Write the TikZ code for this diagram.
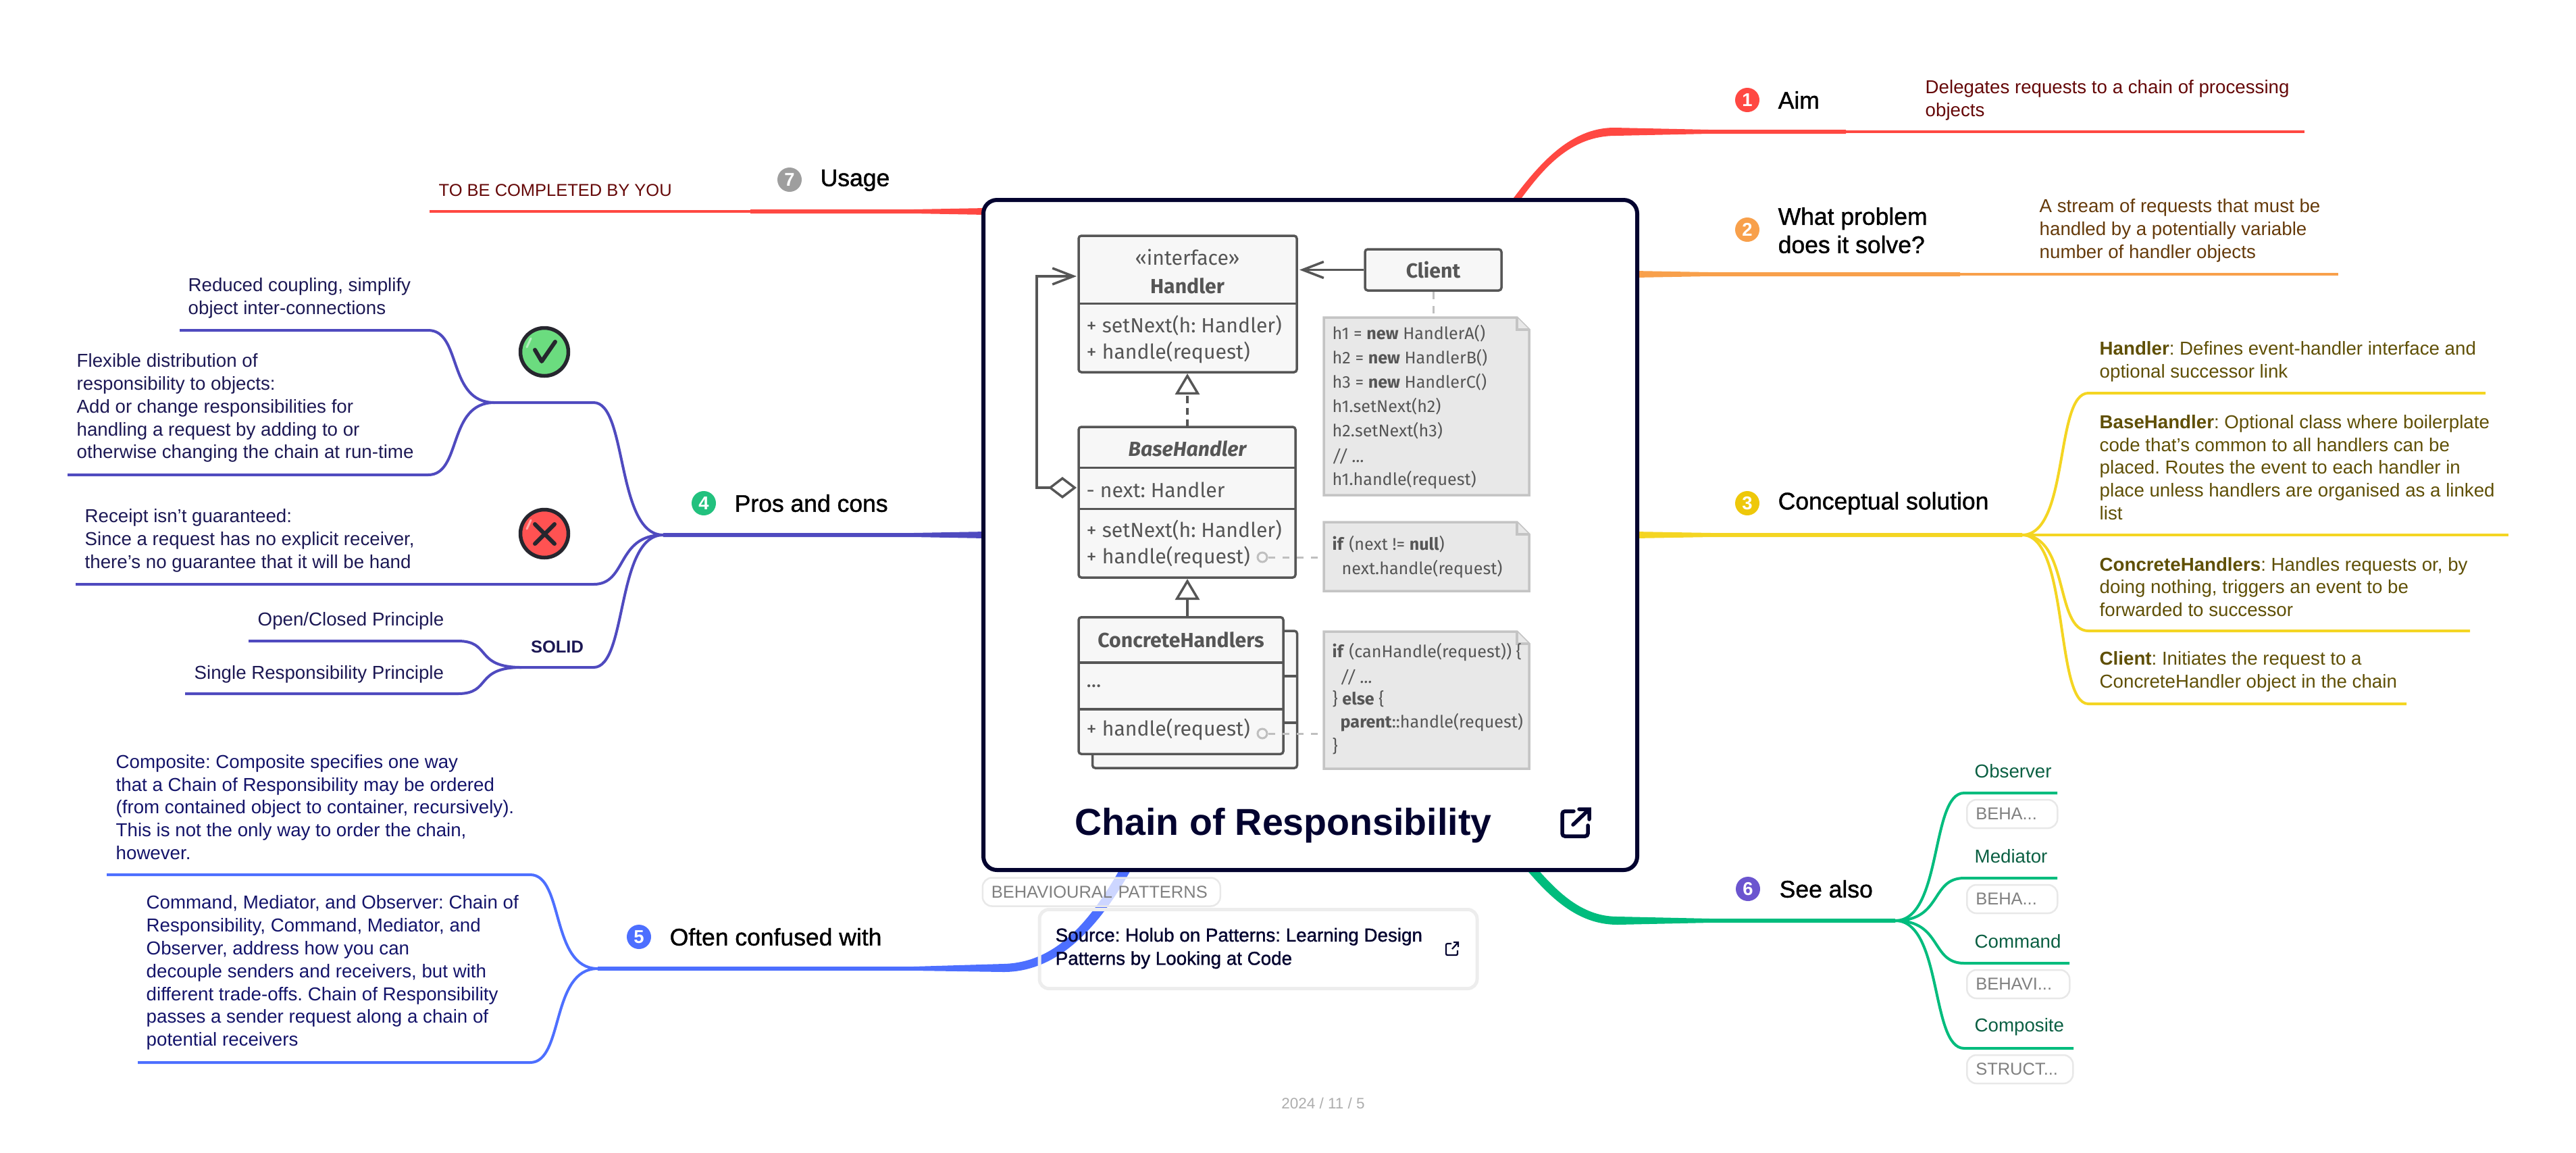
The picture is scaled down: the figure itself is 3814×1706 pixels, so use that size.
\documentclass[tikz,border=0pt]{standalone}
\usepackage{fontspec}
\setmainfont{Liberation Sans}
\newfontfamily\medfont[FakeBold=1.2]{Liberation Sans}
\newfontfamily\umlfont{Fira Sans}
\usetikzlibrary{arrows.meta,calc}
\definecolor{aimred}{HTML}{FF4842}
\definecolor{aimtext}{HTML}{650808}
\definecolor{proborange}{HTML}{F8A04B}
\definecolor{probtext}{HTML}{653A0A}
\definecolor{solyellow}{HTML}{F4D522}
\definecolor{solbadgefill}{HTML}{EEC80A}
\definecolor{soltext}{HTML}{5F4F05}
\definecolor{prosindigo}{HTML}{4F4ABF}
\definecolor{prosbadgefill}{HTML}{22C17E}
\definecolor{prostext}{HTML}{1C1854}
\definecolor{confblue}{HTML}{4D6FFF}
\definecolor{conftext}{HTML}{14146A}
\definecolor{seegreen}{HTML}{00BC7D}
\definecolor{seebadgefill}{HTML}{6B55CF}
\definecolor{seetext}{HTML}{0A5F42}
\definecolor{cardnavy}{HTML}{03032F}
\definecolor{umlgrey}{HTML}{565656}
\definecolor{moodink}{HTML}{26262E}
\definecolor{moodgood}{HTML}{6BDC7F}
\definecolor{moodbad}{HTML}{FF5252}
\newcommand{\leaffont}{\fontsize{7.88pt}{9.64pt}\selectfont}
\newcommand{\topicfont}{\medfont\fontsize{10.1pt}{11.9pt}\selectfont}
\newcommand{\pillfont}{\fontsize{7.25pt}{8.6pt}\selectfont}
\newcommand{\umlbig}{\umlfont\fontsize{8.6pt}{10pt}\selectfont}
\newcommand{\umlsmall}{\umlfont\fontsize{7.15pt}{10.3pt}\selectfont}
\tikzset{
  stem/.style={line width=0.6mm},
  twig/.style={line width=0.4mm},
  leaf/.style={anchor=west,align=left,inner sep=0pt,font=\leaffont},
  topic/.style={anchor=west,align=left,inner sep=0pt,font=\topicfont},
  badge/.style={circle,minimum size=3.6mm,inner sep=0pt,text=white,font=\bfseries\fontsize{7.8pt}{8pt}\selectfont},
  pill/.style={anchor=west,draw=black!9,line width=0.25mm,rounded corners=1.4mm,fill=white,fill opacity=0.72,text opacity=1,
    text=black!50,font=\pillfont,align=left,inner xsep=1.3mm,inner ysep=0pt,minimum height=4.2mm},
  sprout/.style={to path={.. controls +(70,0) and +(-50,0) .. (\tikztotarget)}},
  sproutL/.style={to path={.. controls +(-70,0) and +(50,0) .. (\tikztotarget)}},
  umlbox/.style={draw=umlgrey,fill=black!3,line width=0.35mm,rounded corners=0.4mm,inner sep=0pt},
  umlline/.style={draw=umlgrey,line width=0.35mm},
  umlbold/.style={inner sep=0pt,text=umlgrey,font=\umlbig\bfseries},
  umltext/.style={anchor=west,inner sep=0pt,text=umlgrey,font=\umlbig},
  notetext/.style={anchor=west,inner sep=0pt,text=umlgrey,font=\umlsmall},
  notelink/.style={draw=black!25,line width=0.3mm,dashed},
  notebox/.style={draw=black!23,fill=black!9,line width=0.35mm},
  mood/.style={circle,draw=moodink,line width=0.55mm,minimum size=7.1mm,inner sep=0pt},
}
% folded note, from its top and bottom
\newcommand{\umlnote}[2]{
  \draw[notebox] (1960,#1) -- (2246,#1) -- (2264,#1+18) -- (2264,#2) -- (1960,#2) -- cycle;
  \draw[notebox] (2246,#1) -- (2246,#1+18) -- (2264,#1+18);
}
\begin{document}
\frenchspacing
\begin{tikzpicture}[x=0.1mm,y=-0.1mm]
    \useasboundingbox (0,0) rectangle (3814,1706);

    % aim
    \coordinate (aimknee) at (2733,195);
    \coordinate (aimend) at (3412,195);
    \fill[aimred] (2239,300) -- (2241,293) .. controls (2279,243) and (2325,189) .. (2390,189) -- (2530,192) -- (2733,192) -- (2733,198) -- (2530,198) -- (2392,201) .. controls (2325,201) and (2285,250) .. (2253,293) -- (2250,300) -- cycle;
    \draw[twig,aimred] (aimknee) -- (aimend);
    \node[badge,fill=aimred] (aimbadge) at (2587,148) {1};
    \node[topic] (aimtopic) at (2632,148) {Aim};
    \node[leaf,text=aimtext] (aimleaf) at (2850,148) {Delegates requests to a chain of processing\\objects};

    % problem
    \coordinate (probknee) at (2902,406);
    \coordinate (probend) at (3462,406);
    \fill[proborange] (2420,401) -- (2530,403) -- (2902,403) -- (2902,409) -- (2530,409) -- (2420,411) -- cycle;
    \draw[twig,proborange] (probknee) -- (probend);
    \node[badge,fill=proborange] (probbadge) at (2587,340) {2};
    \node[topic] (probtopic) at (2632,341) {What problem\\does it solve?};
    \node[leaf,text=probtext] (probleaf) at (3019,341) {A stream of requests that must be\\handled by a potentially variable\\number of handler objects};

    % solution
    \coordinate (solsplit) at (2994,792);
    \coordinate (solend) at (3714,792);
    \coordinate (hanknee) at (3092,582);
    \coordinate (hanend) at (3680,582);
    \coordinate (conknee) at (3092,934);
    \coordinate (conend) at (3657,934);
    \coordinate (cliknee) at (3092,1042);
    \coordinate (cliend) at (3563,1042);
    \fill[solyellow] (2420,787) -- (2534,789) -- (2994,789) -- (2994,795) -- (2534,795) -- (2420,797) -- cycle;
    \draw[twig,solyellow] (solsplit) -- (solend);
    \draw[twig,solyellow] (solsplit) to[sprout] (hanknee) -- (hanend);
    \draw[twig,solyellow] (solsplit) to[sprout] (conknee) -- (conend);
    \draw[twig,solyellow] (solsplit) to[sprout] (cliknee) -- (cliend);
    \node[badge,fill=solbadgefill] (solbadge) at (2587,745) {3};
    \node[topic] (soltopic) at (2632,745) {Conceptual solution};
    \node[leaf,text=soltext] (hanleaf) at (3108,535) {\textbf{Handler}: Defines event-handler interface and\\optional successor link};
    \node[leaf,text=soltext] (baseleaf) at (3108,692) {\textbf{BaseHandler}: Optional class where boilerplate\\code that’s common to all handlers can be\\placed. Routes the event to each handler in\\place unless handlers are organised as a linked\\list};
    \node[leaf,text=soltext] (conleaf) at (3108,869) {\textbf{ConcreteHandlers}: Handles requests or, by\\doing nothing, triggers an event to be\\forwarded to successor};
    \node[leaf,text=soltext] (clileaf) at (3108,994) {\textbf{Client}: Initiates the request to a\\ConcreteHandler object in the chain};

    % pros and cons
    \coordinate (prosknee) at (982,792);
    \coordinate (goodknee) at (879,596);
    \coordinate (goodsplit) at (732,596);
    \coordinate (redknee) at (634,489);
    \coordinate (redend) at (266,489);
    \coordinate (flexknee) at (634,703);
    \coordinate (flexend) at (100,703);
    \coordinate (badknee) at (879,865);
    \coordinate (badend) at (112,865);
    \coordinate (solidknee) at (879,988);
    \coordinate (solidsplit) at (772,988);
    \coordinate (openknee) at (678,949);
    \coordinate (openend) at (368,949);
    \coordinate (singleknee) at (678,1027);
    \coordinate (singleend) at (274,1027);
    \fill[prosindigo] (1460,787) -- (1352,789) -- (982,789) -- (982,795) -- (1352,795) -- (1460,797) -- cycle;
    \draw[twig,prosindigo] (prosknee) to[sproutL] (goodknee) -- (goodsplit);
    \draw[twig,prosindigo] (goodsplit) to[sproutL] (redknee) -- (redend);
    \draw[twig,prosindigo] (goodsplit) to[sproutL] (flexknee) -- (flexend);
    \draw[twig,prosindigo] (prosknee) to[sproutL] (badknee) -- (badend);
    \draw[twig,prosindigo] (prosknee) to[sproutL] (solidknee) -- (solidsplit);
    \draw[twig,prosindigo] (solidsplit) to[sproutL] (openknee) -- (openend);
    \draw[twig,prosindigo] (solidsplit) to[sproutL] (singleknee) -- (singleend);
    \node[badge,fill=prosbadgefill] (prosbadge) at (1042,745) {4};
    \node[topic] (prostopic) at (1087,745) {Pros and cons};
    \node[mood,fill=moodgood] (goodmood) at (806,521) {};
    \draw[white,opacity=0.5,line width=0.3mm,line cap=round] (780,514) -- (786,501);
    \draw[line width=0.6mm,moodink,line cap=round,line join=round] (792,518) -- (802,535) -- (822,506);
    \node[mood,fill=moodbad] (badmood) at (806,790) {};
    \draw[white,opacity=0.5,line width=0.3mm,line cap=round] (780,783) -- (786,770);
    \draw[line width=0.6mm,moodink,line cap=round] (792,776) -- (821,805) (821,776) -- (792,805);
    \node[leaf,text=prostext] (redleaf) at (278,441) {Reduced coupling, simplify\\object inter-connections};
    \node[leaf,text=prostext] (flexleaf) at (113,604) {Flexible distribution of\\responsibility to objects:\\Add or change responsibilities for\\handling a request by adding to or\\otherwise changing the chain at run-time};
    \node[leaf,text=prostext] (badleaf) at (125,800) {Receipt isn’t guaranteed:\\Since a request has no explicit receiver,\\there’s no guarantee that it will be hand};
    \node[inner sep=0pt,text=prostext,font=\bfseries\pillfont] (solidtext) at (825,958) {SOLID};
    \node[leaf,text=prostext] (openleaf) at (381,919) {Open/Closed Principle};
    \node[leaf,text=prostext] (singleleaf) at (287,998) {Single Responsibility Principle};

    % confused
    \coordinate (confsplit) at (885,1434);
    \coordinate (compknee) at (785,1295);
    \coordinate (compend) at (158,1295);
    \coordinate (cmdknee) at (785,1573);
    \coordinate (cmdend) at (204,1573);
    \fill[confblue] (885,1431) -- (1352,1431) -- (1486,1427) .. controls (1560,1425) and (1610,1370) .. (1655,1292) -- (1658,1285) -- (1675,1285) -- (1672,1292) .. controls (1625,1375) and (1565,1439) .. (1486,1439) -- (1352,1437) -- (885,1437) -- cycle;
    \draw[twig,confblue] (confsplit) to[sproutL] (compknee) -- (compend);
    \draw[twig,confblue] (confsplit) to[sproutL] (cmdknee) -- (cmdend);
    \node[badge,fill=confblue] (confbadge) at (946,1387) {5};
    \node[topic] (conftopic) at (991,1387) {Often confused with};
    \node[leaf,text=conftext] (compleaf) at (171,1195) {Composite: Composite specifies one way\\that a Chain of Responsibility may be ordered\\(from contained object to container, recursively).\\This is not the only way to order the chain,\\however.};
    \node[leaf,text=conftext] (cmdleaf) at (216,1440) {Command, Mediator, and Observer: Chain of\\Responsibility, Command, Mediator, and\\Observer, address how you can\\decouple senders and receivers, but with\\different trade-offs. Chain of Responsibility\\passes a sender request along a chain of\\potential receivers};

    % see also
    \coordinate (seesplit) at (2806,1363);
    \coordinate (obsknee) at (2908,1174);
    \coordinate (obsend) at (3046,1174);
    \coordinate (medknee) at (2908,1300);
    \coordinate (medend) at (3046,1300);
    \coordinate (comknee) at (2908,1426);
    \coordinate (comend) at (3064,1426);
    \coordinate (cosknee) at (2908,1552);
    \coordinate (cosend) at (3070,1552);
    \fill[seegreen] (2275,1285) .. controls (2310,1325) and (2345,1357) .. (2395,1357) -- (2532,1360) -- (2806,1360) -- (2806,1366) -- (2532,1366) -- (2395,1369) .. controls (2340,1369) and (2300,1335) .. (2258,1285) -- cycle;
    \draw[twig,seegreen] (seesplit) to[sprout] (obsknee) -- (obsend);
    \draw[twig,seegreen] (seesplit) to[sprout] (medknee) -- (medend);
    \draw[twig,seegreen] (seesplit) to[sprout] (comknee) -- (comend);
    \draw[twig,seegreen] (seesplit) to[sprout] (cosknee) -- (cosend);
    \node[badge,fill=seebadgefill] (seebadge) at (2588,1316) {6};
    \node[topic] (seetopic) at (2634,1316) {See also};
    \node[leaf,text=seetext] (obsleaf) at (2923,1142) {Observer};
    \node[leaf,text=seetext] (medleaf) at (2923,1268) {Mediator};
    \node[leaf,text=seetext] (comleaf) at (2923,1394) {Command};
    \node[leaf,text=seetext] (cosleaf) at (2923,1520) {Composite};
    \node[pill,text width=10.8mm] (obspill) at (2911,1205) {BEHA...};
    \node[pill,text width=10.8mm] (medpill) at (2911,1331) {BEHA...};
    \node[pill,text width=12.6mm] (compill) at (2911,1457) {BEHAVI...};
    \node[pill,text width=13.1mm] (cospill) at (2911,1583) {STRUCT...};

    % usage
    \coordinate (useknee) at (1111,313);
    \coordinate (useend) at (636,313);
    \fill[aimred] (1460,308) -- (1352,310) -- (1111,310) -- (1111,316) -- (1352,316) -- (1460,318) -- cycle;
    \draw[twig,aimred] (useknee) -- (useend);
    \node[badge,fill=black!38] (usebadge) at (1169,266) {7};
    \node[topic] (usetopic) at (1214,267) {Usage};
    \node[leaf,text=aimtext,font=\fontsize{7.25pt}{9pt}\selectfont] (useleaf) at (649,282) {TO BE COMPLETED BY YOU};

    % card
    \node[draw=cardnavy,fill=white,line width=0.6mm,rounded corners=2mm,minimum width=96.8mm,minimum height=99.2mm,inner sep=0pt] (card) at (1940,792) {};
    \node[inner sep=0pt,text=cardnavy,font=\bfseries\fontsize{15.8pt}{18pt}\selectfont] (cardtitle) at (1900,1222) {Chain of Responsibility};
    \draw[cardnavy,line width=0.55mm,line cap=round,rounded corners=0.4mm] (2330,1201) -- (2313,1201) -- (2313,1238) -- (2351,1238) -- (2351,1222);
    \draw[cardnavy,line width=0.55mm,line cap=round] (2329,1221) -- (2352,1199) (2338,1198) -- (2353,1198) -- (2353,1213);

    % handler
    \node[umlbox,minimum width=32.3mm,minimum height=20.2mm] (handler) at (1758.5,450) {};
    \draw[umlline] (1597,449.5) -- (1920,449.5);
    \node[inner sep=0pt,text=umlgrey,font=\umlbig] (iftext) at (1758,381) {«interface»};
    \node[umlbold] (hantitle) at (1758,423) {Handler};
    \node[umltext] (hannext) at (1608,482) {+ setNext(h: Handler)};
    \node[umltext] (hanhandle) at (1608,522) {+ handle(request)};

    % client
    \node[umlbox,minimum width=20.2mm,minimum height=6.1mm,font=\umlbig\bfseries,text=umlgrey] (client) at (2122,399.5) {Client};
    \coordinate (hanin) at (1924,399.5);
    \draw[umlline,-{Straight Barb[length=3.1mm,width=2.4mm]}] (client) -- (hanin);

    % base
    \node[umlbox,minimum width=32.1mm,minimum height=22.3mm] (base) at (1757.5,743.5) {};
    \draw[umlline] (1597,692.5) -- (1918,692.5);
    \draw[umlline] (1597,753.5) -- (1918,753.5);
    \node[umlbold,font=\umlbig\bfseries\itshape] (basetitle) at (1758,664) {BaseHandler};
    \node[umltext] (basefield) at (1608,725) {- next: Handler};
    \node[umltext] (basenext) at (1608,785) {+ setNext(h: Handler)};
    \node[umltext] (basehandle) at (1608,825) {+ handle(request)};
    \coordinate (baseup) at (1758,632);
    \coordinate (hanunder) at (1758,553);
    \draw[umlline,densely dashed,-{Triangle[open,length=3.1mm,width=3.6mm]}] (baseup) -- (hanunder);
    \coordinate (aggstart) at (1594,722);
    \coordinate (aggleft) at (1535,722);
    \coordinate (aggtop) at (1535,409);
    \coordinate (aggend) at (1594,409);
    \draw[umlline,{Diamond[open,length=4.2mm,width=3.2mm]}-{Straight Barb[length=3.1mm,width=2.4mm]}] (aggstart) -- (aggleft) -- (aggtop) -- (aggend);

    % concrete
    \node[umlbox,minimum width=30.3mm,minimum height=20.3mm] (backbox) at (1769,1035.5) {};
    \draw[umlline] (1900,1001) -- (1920,1001);
    \draw[umlline] (1900,1070) -- (1920,1070);
    \node[umlbox,minimum width=30.3mm,minimum height=20.25mm] (conbox) at (1748.5,1015) {};
    \draw[umlline] (1597,981) -- (1900,981);
    \draw[umlline] (1597,1050) -- (1900,1050);
    \node[umlbold] (contitle) at (1748.5,947) {ConcreteHandlers};
    \node[umltext] (confield) at (1608,1016) {...};
    \node[umltext] (conhandle) at (1608,1080) {+ handle(request)};
    \coordinate (conup) at (1758,914);
    \coordinate (baseunder) at (1758,857);
    \draw[umlline,-{Triangle[open,length=3.1mm,width=3.6mm]}] (conup) -- (baseunder);

    % notes
    \umlnote{470}{733}
    \umlnote{773}{875}
    \umlnote{935}{1138}
    \coordinate (clientdot) at (2122,432);
    \coordinate (notedot) at (2122,469);
    \draw[notelink] (clientdot) -- (notedot);
    \node[circle,draw=black!25,line width=0.3mm,minimum size=1.4mm,inner sep=0pt] (basecirc) at (1869,825) {};
    \coordinate (basedot) at (1955,825);
    \draw[notelink] (basecirc) -- (basedot);
    \node[circle,draw=black!25,line width=0.3mm,minimum size=1.4mm,inner sep=0pt] (concirc) at (1869,1086) {};
    \coordinate (condot) at (1958,1086);
    \draw[notelink] (concirc) -- (condot);

    \node[notetext] (nt1) at (1972,494) {h1 = \textbf{new} HandlerA()};
    \node[notetext] (nt2) at (1972,530) {h2 = \textbf{new} HandlerB()};
    \node[notetext] (nt3) at (1972,566) {h3 = \textbf{new} HandlerC()};
    \node[notetext] (nt4) at (1972,602) {h1.setNext(h2)};
    \node[notetext] (nt5) at (1972,638) {h2.setNext(h3)};
    \node[notetext] (nt6) at (1972,676) {\textit{// ...}};
    \node[notetext] (nt7) at (1972,711) {h1.handle(request)};
    \node[notetext] (nt8) at (1972,806) {\textbf{if} (next != \textbf{null})};
    \node[notetext] (nt9) at (1986,843) {next.handle(request)};
    \node[notetext] (nt10) at (1972,966) {\textbf{if} (canHandle(request)) \{};
    \node[notetext] (nt11) at (1984,1003) {\textit{// ...}};
    \node[notetext] (nt12) at (1972,1035) {\} \textbf{else} \{};
    \node[notetext] (nt13) at (1984,1070) {\textbf{parent}::handle(request)};
    \node[notetext] (nt14) at (1972,1105) {\}};

    % tag and source
    \node[pill,text width=32.6mm] (cardtag) at (1453.5,1320.5) {BEHAVIOURAL PATTERNS};
    \node[draw=black!7,line width=0.5mm,rounded corners=1.4mm,minimum width=64.8mm,minimum height=11.7mm,inner sep=0pt] (source) at (1863,1405) {};
    \node[anchor=west,align=left,inner sep=0pt,text=cardnavy,font=\medfont\fontsize{7.9pt}{9.8pt}\selectfont] (sourcetext) at (1562,1404) {Source: Holub on Patterns: Learning Design\\Patterns by Looking at Code};
    \draw[cardnavy,line width=0.22mm,rounded corners=0.2mm] (2149,1397) -- (2141,1397) -- (2141,1414) -- (2158,1414) -- (2158,1407);
    \draw[cardnavy,line width=0.22mm] (2150,1405) -- (2159,1395) (2152,1395) -- (2159,1395) -- (2159,1402);

    \node[inner sep=0pt,text=black!32,font=\fontsize{6.4pt}{8pt}\selectfont] (datetext) at (1959,1633) {2024 / 11 / 5};
\end{tikzpicture}
\end{document}
